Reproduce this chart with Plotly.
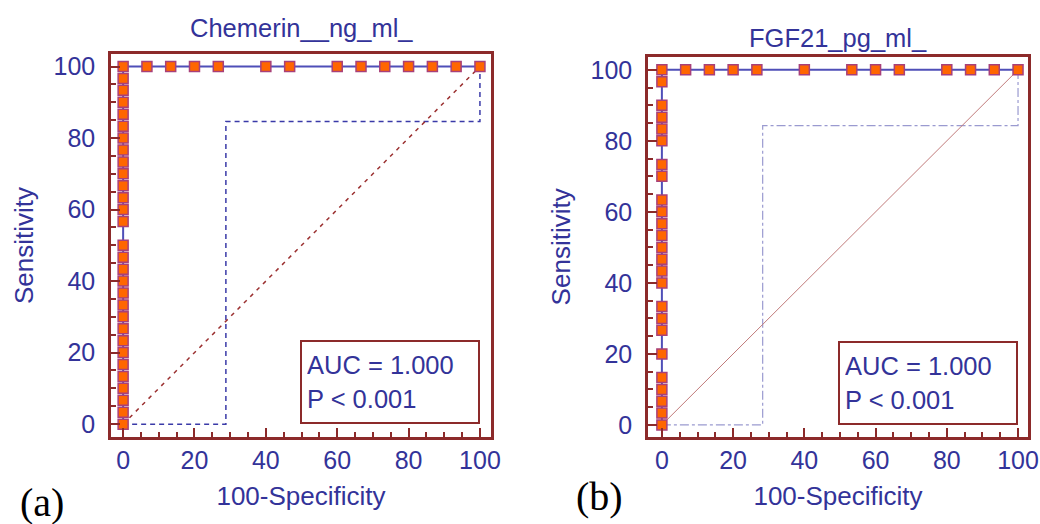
import plotly.graph_objects as go

# ---------------- data ----------------
# Panel (a) Chemerin
a_sens_at_zero = [0, 3.33, 6.67, 10, 13.33, 16.67, 20, 23.33, 26.67, 30, 33.33, 36.67,
                  40, 43.33, 46.67, 50, 56.67, 60, 63.33, 66.67, 70, 73.33, 76.67,
                  80, 83.33, 86.67, 90, 93.33, 96.67, 100]
a_fpr_at_top = [0, 6.67, 13.33, 20, 26.67, 40, 46.67, 60, 66.67, 73.33, 80, 86.67, 93.33, 100]
a_ci_x = [0, 28.8, 28.8, 100, 100]
a_ci_y = [0, 0, 84.6, 84.6, 100]

# Panel (b) FGF21
b_sens_at_zero = [0, 3.33, 6.67, 10, 13.33, 20, 26.67, 30, 33.33, 40, 43.33, 46.67,
                  50, 53.33, 56.67, 60, 63.33, 70, 73.33, 80, 83.33, 86.67, 90, 96.67, 100]
b_fpr_at_top = [0, 6.67, 13.33, 20, 26.67, 40, 53.33, 60, 66.67, 80, 86.67, 93.33, 100]
b_ci_x = [0, 28.3, 28.3, 100, 100]
b_ci_y = [0, 0, 84.3, 84.3, 100]

diag = [0, 100]
ticks = [0, 20, 40, 60, 80, 100]
titles = ["Chemerin__ng_ml_", "FGF21_pg_ml_"]
auc_text = "AUC = 1.000<br>P &lt; 0.001"

# ---------------- style ----------------
FRAME = "#8c2a2a"
TXT = "#333399"
CURVE = "#4f4fb8"
MFILL = "#ff6600"
MEDGE = "#a8407a"
FONT = "Liberation Sans, Arial, sans-serif"
SERIF = "Liberation Serif, Times New Roman, serif"

fig = go.Figure()

def add_panel(sens, fpr, cix, ciy, xa, ya, diag_style, ci_style):
    xs = [0] * len(sens) + fpr[1:]
    ys = sens + [100] * (len(fpr) - 1)
    fig.add_trace(go.Scatter(x=cix, y=ciy, mode="lines", line=ci_style,
                             xaxis=xa, yaxis=ya, showlegend=False, hoverinfo="skip"))
    fig.add_trace(go.Scatter(x=diag, y=diag, mode="lines", line=diag_style,
                             xaxis=xa, yaxis=ya, showlegend=False, hoverinfo="skip"))
    fig.add_trace(go.Scatter(x=xs, y=ys, mode="lines+markers",
                             line=dict(color=CURVE, width=2),
                             marker=dict(symbol="square", size=10, color=MFILL,
                                         line=dict(color=MEDGE, width=1.5)),
                             xaxis=xa, yaxis=ya, showlegend=False))

add_panel(a_sens_at_zero, a_fpr_at_top, a_ci_x, a_ci_y, "x", "y",
          dict(color="#9b3030", width=1.5, dash="4px,5px"),
          dict(color="#3a3aa8", width=1.5, dash="5px,4px"))
add_panel(b_sens_at_zero, b_fpr_at_top, b_ci_x, b_ci_y, "x2", "y2",
          dict(color="#c07a7a", width=1),
          dict(color="#9a9ad0", width=1.2, dash="dashdot"))

W, H = 1040, 524

def axis_common():
    return dict(showline=True, linecolor=FRAME, linewidth=2.5, mirror=True,
                ticks="inside", ticklen=9, tickwidth=2, tickcolor=FRAME,
                tickvals=ticks, showgrid=False, zeroline=False, automargin=False,
                tickfont=dict(family=FONT, size=25, color=TXT),
                minor=dict(dtick=5, tick0=0, ticks="inside", ticklen=5,
                           tickwidth=1.5, tickcolor=FRAME, showgrid=False),
                title_font=dict(family=FONT, size=26, color=TXT),
                fixedrange=True)

def dom(px0, px1, total):
    return [px0 / total, px1 / total]

xa1 = axis_common(); xa1.update(domain=dom(111, 491, W), range=[-3.4, 103.1], anchor="y",
                               title=dict(text="100-Specificity", standoff=15), ticklabelstandoff=-1)
ya1 = axis_common(); ya1.update(domain=[1 - 437 / H, 1 - 54 / H], range=[-3.6, 103.5], anchor="x",
                               title=dict(text="Sensitivity", standoff=13), ticklabelstandoff=8)
xa2 = axis_common(); xa2.update(domain=dom(648, 1028, W), range=[-3.9, 102.8], anchor="y2",
                               title=dict(text="100-Specificity", standoff=15), ticklabelstandoff=-1)
ya2 = axis_common(); ya2.update(domain=[1 - 437 / H, 1 - 56.7 / H], range=[-3.4, 103.7], anchor="x2",
                               title=dict(text="Sensitivity", standoff=13), ticklabelstandoff=8)

annotations = [
    dict(text=titles[0], x=301 / W, y=1 - 28 / H, xref="paper", yref="paper",
         xanchor="center", yanchor="middle",
         showarrow=False, font=dict(family=FONT, size=25.5, color=TXT)),
    dict(text=titles[1], x=838 / W, y=1 - 38 / H, xref="paper", yref="paper",
         xanchor="center", yanchor="middle",
         showarrow=False, font=dict(family=FONT, size=25.5, color=TXT)),
    dict(text=auc_text, x=100, y=0, xref="x", yref="y", xanchor="right", yanchor="bottom",
         showarrow=False, align="left", width=166, height=70, borderpad=5,
         bordercolor=FRAME, borderwidth=2, bgcolor="white",
         font=dict(family=FONT, size=25.5, color=TXT)),
    dict(text=auc_text, x=100, y=0, xref="x2", yref="y2", xanchor="right", yanchor="bottom",
         showarrow=False, align="left", width=166, height=70, borderpad=5,
         bordercolor=FRAME, borderwidth=2, bgcolor="white",
         font=dict(family=FONT, size=25.5, color=TXT)),
    dict(text="(a)", x=42 / W, y=1 - 502 / H, xref="paper", yref="paper", showarrow=False,
         xanchor="center", yanchor="middle",
         font=dict(family=SERIF, size=40, color="black")),
    dict(text="(b)", x=599 / W, y=1 - 496 / H, xref="paper", yref="paper", showarrow=False,
         xanchor="center", yanchor="middle",
         font=dict(family=SERIF, size=40, color="black")),
]

fig.update_layout(width=W, height=H, margin=dict(l=0, r=0, t=0, b=0, autoexpand=False),
                  paper_bgcolor="white", plot_bgcolor="white",
                  xaxis=xa1, yaxis=ya1, xaxis2=xa2, yaxis2=ya2,
                  annotations=annotations, showlegend=False)

fig.write_html("out.html", config={"displayModeBar": False},
               post_script="document.body.style.margin='0px';document.body.style.overflow='hidden';")
